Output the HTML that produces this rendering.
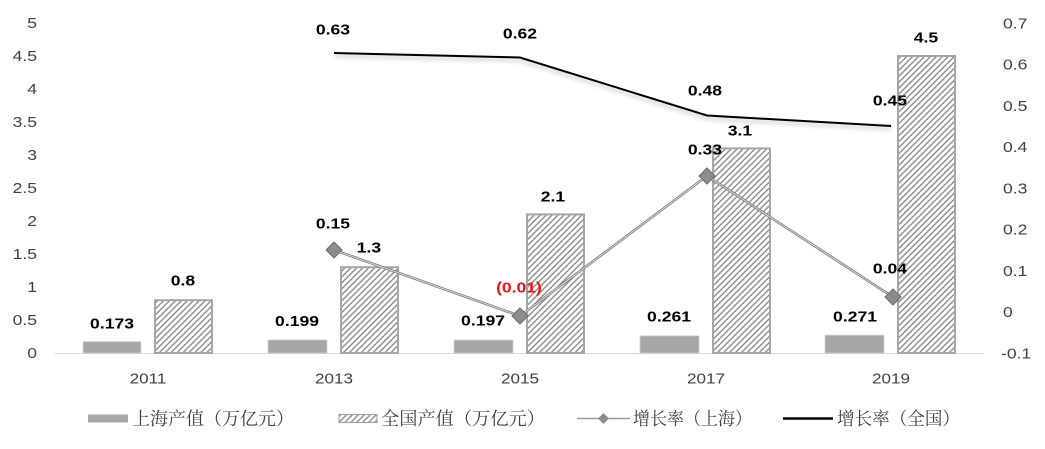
<!DOCTYPE html>
<html>
<head>
<meta charset="utf-8">
<style>
  html,body{margin:0;padding:0;background:#fff;}
  svg{display:block;}
  .ax{font-family:"Liberation Sans",sans-serif;font-size:15px;fill:#404040;}
  .dl{font-family:"Liberation Sans",sans-serif;font-size:15px;font-weight:bold;fill:#000;}
  .lg{font-family:"Liberation Serif","Noto Serif CJK SC",serif;font-size:18px;fill:#404040;}
</style>
</head>
<body>
<svg width="1045" height="449" viewBox="0 0 1045 449" xmlns="http://www.w3.org/2000/svg">
  <defs>
    <pattern id="h" patternUnits="userSpaceOnUse" width="4.2" height="4.2" patternTransform="rotate(45)">
      <rect x="0" y="0" width="4.2" height="4.2" fill="#fff"/>
      <rect x="0" y="0" width="1.4" height="4.2" fill="#8c8c8c"/>
    </pattern>
    <filter id="sh" x="-5%" y="-50%" width="110%" height="200%">
      <feDropShadow dx="0" dy="3" stdDeviation="2" flood-color="#000" flood-opacity="0.25"/>
    </filter>
    <filter id="bs" x="-10%" y="-50%" width="120%" height="200%">
      <feGaussianBlur stdDeviation="0.6"/>
    </filter>
  </defs>

  <!-- baseline -->
  <line x1="55" y1="353.5" x2="984" y2="353.5" stroke="#d9d9d9" stroke-width="1"/>

  <!-- left axis labels -->
  <g class="ax" text-anchor="end">
    <text transform="translate(37,28) scale(1.17 1)">5</text>
    <text transform="translate(37,61) scale(1.17 1)">4.5</text>
    <text transform="translate(37,94) scale(1.17 1)">4</text>
    <text transform="translate(37,127) scale(1.17 1)">3.5</text>
    <text transform="translate(37,160) scale(1.17 1)">3</text>
    <text transform="translate(37,193) scale(1.17 1)">2.5</text>
    <text transform="translate(37,226) scale(1.17 1)">2</text>
    <text transform="translate(37,259) scale(1.17 1)">1.5</text>
    <text transform="translate(37,292) scale(1.17 1)">1</text>
    <text transform="translate(37,325) scale(1.17 1)">0.5</text>
    <text transform="translate(37,358) scale(1.17 1)">0</text>
  </g>

  <!-- right axis labels -->
  <g class="ax" text-anchor="start">
    <text transform="translate(1003,28.5) scale(1.17 1)">0.7</text>
    <text transform="translate(1003,69.7) scale(1.17 1)">0.6</text>
    <text transform="translate(1003,111) scale(1.17 1)">0.5</text>
    <text transform="translate(1003,152.2) scale(1.17 1)">0.4</text>
    <text transform="translate(1003,193.5) scale(1.17 1)">0.3</text>
    <text transform="translate(1003,234.7) scale(1.17 1)">0.2</text>
    <text transform="translate(1003,276) scale(1.17 1)">0.1</text>
    <text transform="translate(1003,317.2) scale(1.17 1)">0</text>
    <text transform="translate(1001,358.5) scale(1.17 1)">-0.1</text>
  </g>

  <!-- x labels -->
  <g class="ax" text-anchor="middle">
    <text transform="translate(148,383.5) scale(1.14 1)">2011</text>
    <text transform="translate(334,383.5) scale(1.14 1)">2013</text>
    <text transform="translate(520,383.5) scale(1.14 1)">2015</text>
    <text transform="translate(706,383.5) scale(1.14 1)">2017</text>
    <text transform="translate(891,383.5) scale(1.14 1)">2019</text>
  </g>

  <!-- Shanghai bars -->
  <g fill="#a6a6a6" filter="url(#bs)">
    <rect x="83" y="341.6" width="58" height="11.4"/>
    <rect x="268" y="339.9" width="59" height="13.1"/>
    <rect x="454" y="340" width="59" height="13"/>
    <rect x="640" y="335.8" width="59" height="17.2"/>
    <rect x="825" y="335.1" width="59" height="17.9"/>
  </g>

  <!-- National bars (hatched) -->
  <g fill="url(#h)" stroke="#a6a6a6" stroke-width="2">
    <rect x="155" y="300.2" width="57" height="52.8"/>
    <rect x="341" y="267.2" width="57" height="85.8"/>
    <rect x="527" y="214.4" width="57" height="138.6"/>
    <rect x="713" y="148.4" width="57" height="204.6"/>
    <rect x="898" y="56" width="57" height="297"/>
  </g>

  <!-- National growth line -->
  <polyline points="334,53 520,57.5 707,115.5 891,126" fill="none" stroke="#000" stroke-width="2" filter="url(#sh)"/>

  <!-- Shanghai growth line -->
  <polyline points="334,250 520,316 707,176 893,297" fill="none" stroke="#808080" stroke-width="2.6"/>
  <polyline points="334,250 520,316 707,176 893,297" fill="none" stroke="#e6e6e6" stroke-width="0.8"/>
  <g fill="#8c8c8c" stroke="#6e6e6e" stroke-width="1">
    <polygon points="334,242 342,250 334,258 326,250"/>
    <polygon points="520,308 528,316 520,324 512,316"/>
    <polygon points="707,168 715,176 707,184 699,176"/>
    <polygon points="893,289 901,297 893,305 885,297"/>
  </g>

  <!-- data labels -->
  <g class="dl" text-anchor="middle">
    <text transform="translate(112,328.5) scale(1.17 1)">0.173</text>
    <text transform="translate(183,285.5) scale(1.17 1)">0.8</text>
    <text transform="translate(297,326) scale(1.17 1)">0.199</text>
    <text transform="translate(369,252.5) scale(1.17 1)">1.3</text>
    <text transform="translate(483,325.5) scale(1.17 1)">0.197</text>
    <text transform="translate(553,201.5) scale(1.17 1)">2.1</text>
    <text transform="translate(519,292.5) scale(1.17 1)" fill="#e8141b">(0.01)</text>
    <text transform="translate(333,228.5) scale(1.17 1)">0.15</text>
    <text transform="translate(669,321.5) scale(1.17 1)">0.261</text>
    <text transform="translate(740,135.5) scale(1.17 1)">3.1</text>
    <text transform="translate(705,154.5) scale(1.17 1)">0.33</text>
    <text transform="translate(705,95.5) scale(1.17 1)">0.48</text>
    <text transform="translate(855,321.5) scale(1.17 1)">0.271</text>
    <text transform="translate(926,42.5) scale(1.17 1)">4.5</text>
    <text transform="translate(890,105.5) scale(1.17 1)">0.45</text>
    <text transform="translate(890,273.5) scale(1.17 1)">0.04</text>
    <text transform="translate(333,34.5) scale(1.17 1)">0.63</text>
    <text transform="translate(520,38.5) scale(1.17 1)">0.62</text>
  </g>

  <!-- legend -->
  <rect x="88" y="414.5" width="40" height="8" fill="#a6a6a6"/>
  <text class="lg" x="132" y="425" textLength="162" lengthAdjust="spacingAndGlyphs">上海产值（万亿元）</text>

  <rect x="339" y="414.5" width="38" height="8" fill="url(#h)" stroke="#a6a6a6" stroke-width="1.2"/>
  <text class="lg" x="381" y="425" textLength="164" lengthAdjust="spacingAndGlyphs">全国产值（万亿元）</text>

  <line x1="577" y1="418.5" x2="630" y2="418.5" stroke="#999" stroke-width="1.5"/>
  <polygon points="603.5,413 609,418.5 603.5,424 598,418.5" fill="#8c8c8c"/>
  <text class="lg" x="633" y="425" textLength="119" lengthAdjust="spacingAndGlyphs">增长率（上海）</text>

  <line x1="783" y1="418.5" x2="833" y2="418.5" stroke="#000" stroke-width="2.5"/>
  <text class="lg" x="837" y="425" textLength="123" lengthAdjust="spacingAndGlyphs">增长率（全国）</text>
</svg>
</body>
</html>
